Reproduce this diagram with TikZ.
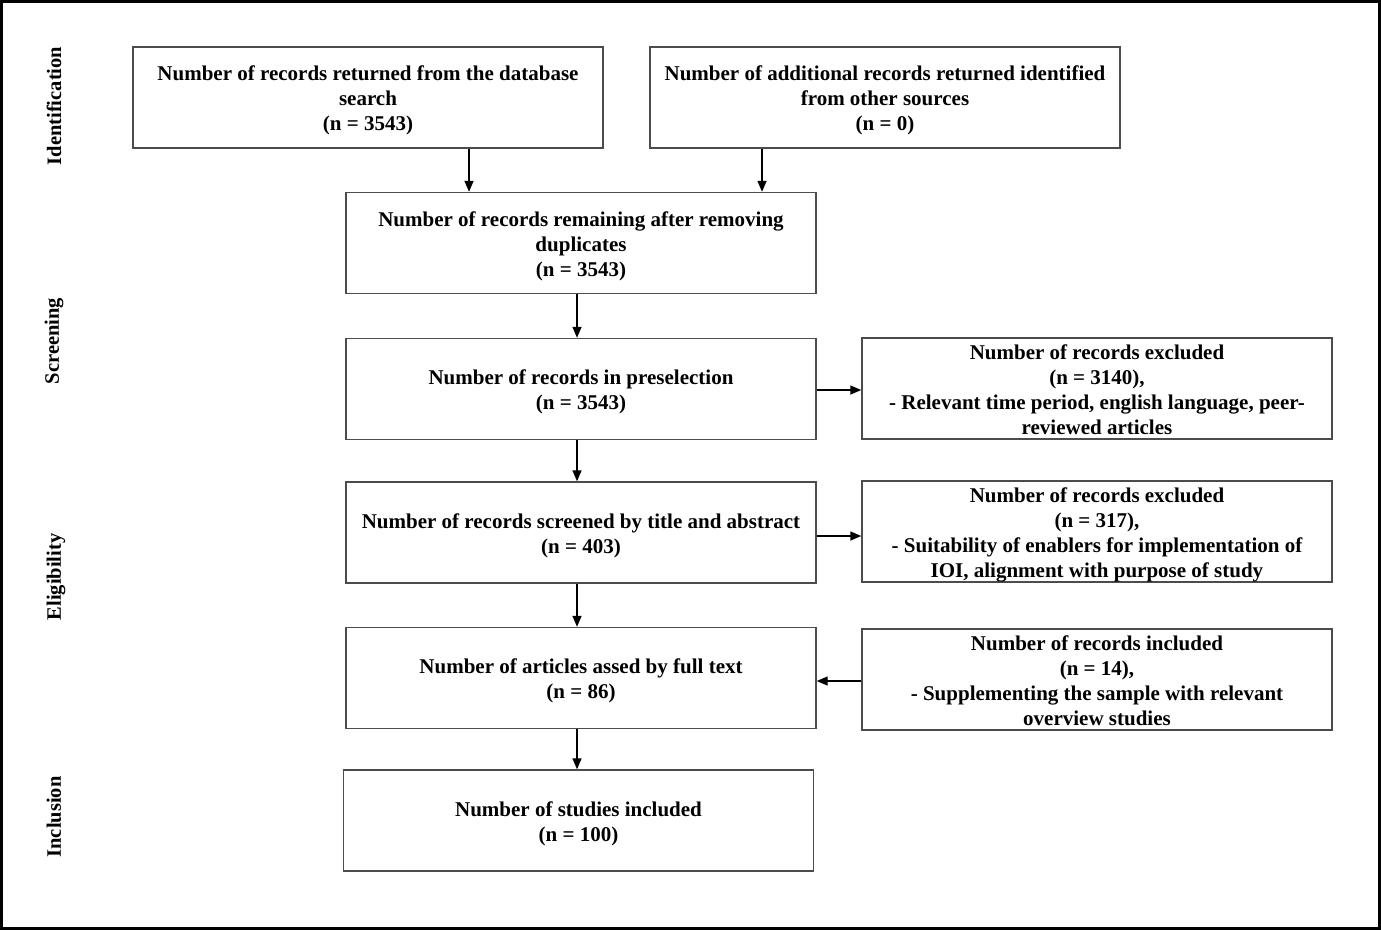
\documentclass[tikz,border=0pt]{standalone}
\usepackage{fontspec}
\setmainfont{Liberation Serif}
\usetikzlibrary{arrows.meta}
\newcommand\boxtxt[2][3pt]{\raisebox{-#1}[\height][\depth]{\begin{tabular}{@{}c@{}}#2\end{tabular}}}
\begin{document}
\begin{tikzpicture}[x=1pt,y=-1pt,
  box/.style={draw=black!70, line width=1.4pt, rectangle, minimum width=470pt, minimum height=101pt, inner sep=0pt, font=\fontsize{21}{25}\selectfont\bfseries},
  side/.style={rotate=90, font=\fontsize{20.5}{25}\selectfont\bfseries, inner sep=0pt},
  arr/.style={line width=1.4pt, -{Triangle[length=11pt,width=9pt]}}]
\useasboundingbox (0,0) rectangle (1381,930);
\draw[line width=3pt] (1.5,1.5) rectangle (1379.5,928.5);
\node[side] (lid) at (54,106) {Identification};
\node[side] (lsc) at (54,341) {Screening};
\node[side] (lel) at (56,577) {Eligibility};
\node[side] (lin) at (54,817) {Inclusion};
\node[box] (b1) at (368,97.5) {\boxtxt{Number of records returned from the database\\search\\(n = 3543)}};
\node[box] (b2) at (885,97.5) {\boxtxt{Number of additional records returned identified\\from other sources\\(n = 0)}};
\node[box] (b3) at (581,243) {\boxtxt{Number of records remaining after removing\\duplicates\\(n = 3543)}};
\node[box] (b4) at (581,389) {\boxtxt{Number of records in preselection\\(n = 3543)}};
\node[box] (e1) at (1097,388.5) {\boxtxt{Number of records excluded\\(n = 3140),\\- Relevant time period, english language, peer-\\reviewed articles}};
\node[box] (b5) at (581,532.5) {\boxtxt{Number of records screened by title and abstract\\(n = 403)}};
\node[box] (e2) at (1097,531.5) {\boxtxt{Number of records excluded\\(n = 317),\\- Suitability of enablers for implementation of\\IOI, alignment with purpose of study}};
\node[box] (b6) at (581,678) {\boxtxt{Number of articles assed by full text\\(n = 86)}};
\node[box] (i1) at (1097,679.5) {\boxtxt{Number of records included\\(n = 14),\\- Supplementing the sample with relevant\\overview studies}};
\node[box] (b7) at (578.5,820.5) {\boxtxt{Number of studies included\\(n = 100)}};
\draw[arr] (b1.south -| 469,0) -- (b3.north -| 469,0);
\draw[arr] (b2.south -| 762,0) -- (b3.north -| 762,0);
\draw[arr] (b3.south -| 577,0) -- (b4.north -| 577,0);
\draw[arr] (b4.south -| 577,0) -- (b5.north -| 577,0);
\draw[arr] (b5.south -| 577,0) -- (b6.north -| 577,0);
\draw[arr] (b6.south -| 577,0) -- (b7.north -| 577,0);
\draw[arr] (b4.east |- 0,390) -- (e1.west |- 0,390);
\draw[arr] (b5.east |- 0,536) -- (e2.west |- 0,536);
\draw[arr] (i1.west |- 0,681) -- (b6.east |- 0,681);
\end{tikzpicture}
\end{document}
